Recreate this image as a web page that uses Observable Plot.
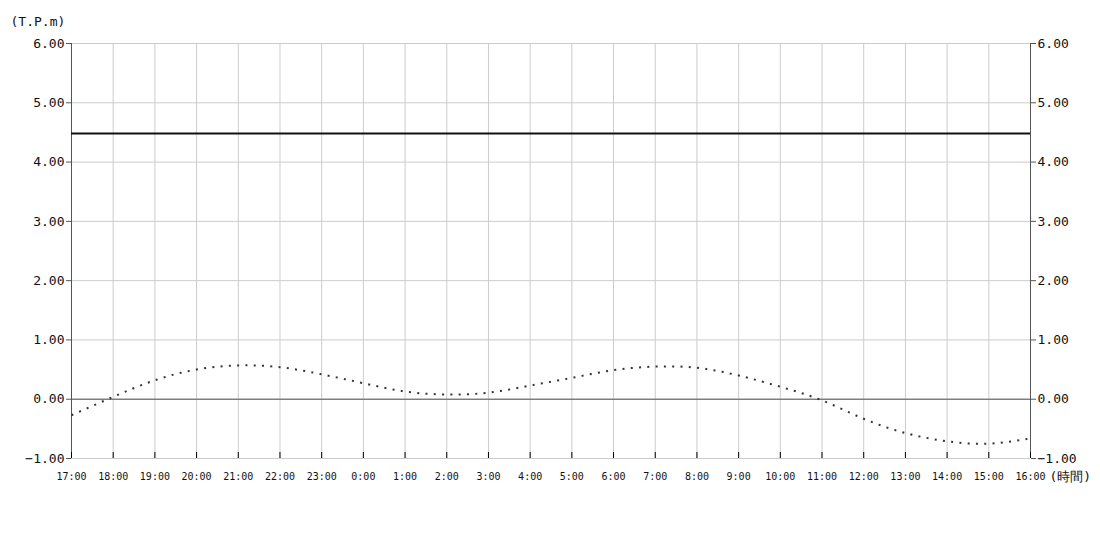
<!DOCTYPE html>
<html>
<head>
<meta charset="utf-8">
<script src="https://cdn.jsdelivr.net/npm/d3@7"></script>
<script src="https://cdn.jsdelivr.net/npm/@observablehq/plot@0.6"></script>
<style>
  body { margin: 0; background: #fff; }
  svg { font-family: "DejaVu Sans Mono", monospace; }
</style>
</head>
<body>
<div id="chart"></div>
<script>
const hourLabels = ["17:00","18:00","19:00","20:00","21:00","22:00","23:00","0:00","1:00","2:00","3:00","4:00","5:00","6:00","7:00","8:00","9:00","10:00","11:00","12:00","13:00","14:00","15:00","16:00"];
const tideLevel = [-0.27, 0.04, 0.32, 0.50, 0.57, 0.54, 0.42, 0.27, 0.13, 0.08, 0.11, 0.23, 0.36, 0.49, 0.55, 0.53, 0.40, 0.21, -0.02, -0.33, -0.57, -0.71, -0.75, -0.66];
const referenceLevel = 4.48;
const yTicks = [-1, 0, 1, 2, 3, 4, 5, 6];
const yLabel = "(T.P.m)";
const xLabel = "(時間)";

const idx = hourLabels.map((_, i) => i);
const tide = tideLevel.map((v, i) => ({i, v}));
const fmt = d3.format(".2f");

const chart = Plot.plot({
  width: 1100,
  height: 510,
  marginTop: 43,
  marginLeft: 71,
  marginRight: 70,
  marginBottom: 52,
  style: {fontFamily: "DejaVu Sans Mono, monospace", background: "#fff"},
  x: {type: "linear", domain: [0, hourLabels.length - 1]},
  y: {domain: [-1, 6]},
  marks: [
    Plot.gridX(idx, {stroke: "#cccccc", strokeOpacity: 1}),
    Plot.gridY(yTicks, {stroke: "#cccccc", strokeOpacity: 1}),
    Plot.ruleY([0], {stroke: "#555"}),
    Plot.ruleX([0, hourLabels.length - 1], {stroke: "#555"}),
    Plot.ruleY([referenceLevel], {stroke: "#111", strokeWidth: 2}),
    Plot.line(tide, {x: "i", y: "v", stroke: "#333", strokeWidth: 2, strokeLinecap: "butt", strokeDasharray: "2,6.3", curve: "natural"}),
    Plot.axisY(yTicks, {anchor: "left", tickSize: 5, tickPadding: 2, tickFormat: fmt, label: null, stroke: "#555", fontSize: 13, fill: "#111"}),
    Plot.axisY(yTicks, {anchor: "right", tickSize: 5, tickPadding: 2, tickFormat: fmt, label: null, stroke: "#555", fontSize: 13, fill: "#111"}),
    Plot.axisX(idx, {anchor: "bottom", tickSize: 6, dy: -6, fill: "none", stroke: "#000", label: null}),
    Plot.axisX(idx, {anchor: "bottom", tickSize: 0, tickPadding: 14, tickFormat: i => hourLabels[i], label: null, fontSize: 10, fill: "#111"}),
    Plot.text([yLabel], {frameAnchor: "top-left", text: d => d, dx: -61, dy: -27, textAnchor: "start", fontSize: 13, fill: "#111"}),
    Plot.text([xLabel], {frameAnchor: "bottom-right", text: d => d, dx: 19, dy: 22, textAnchor: "start", fontSize: 13, fill: "#111"})
  ]
});
document.getElementById("chart").append(chart);
</script>
</body>
</html>
